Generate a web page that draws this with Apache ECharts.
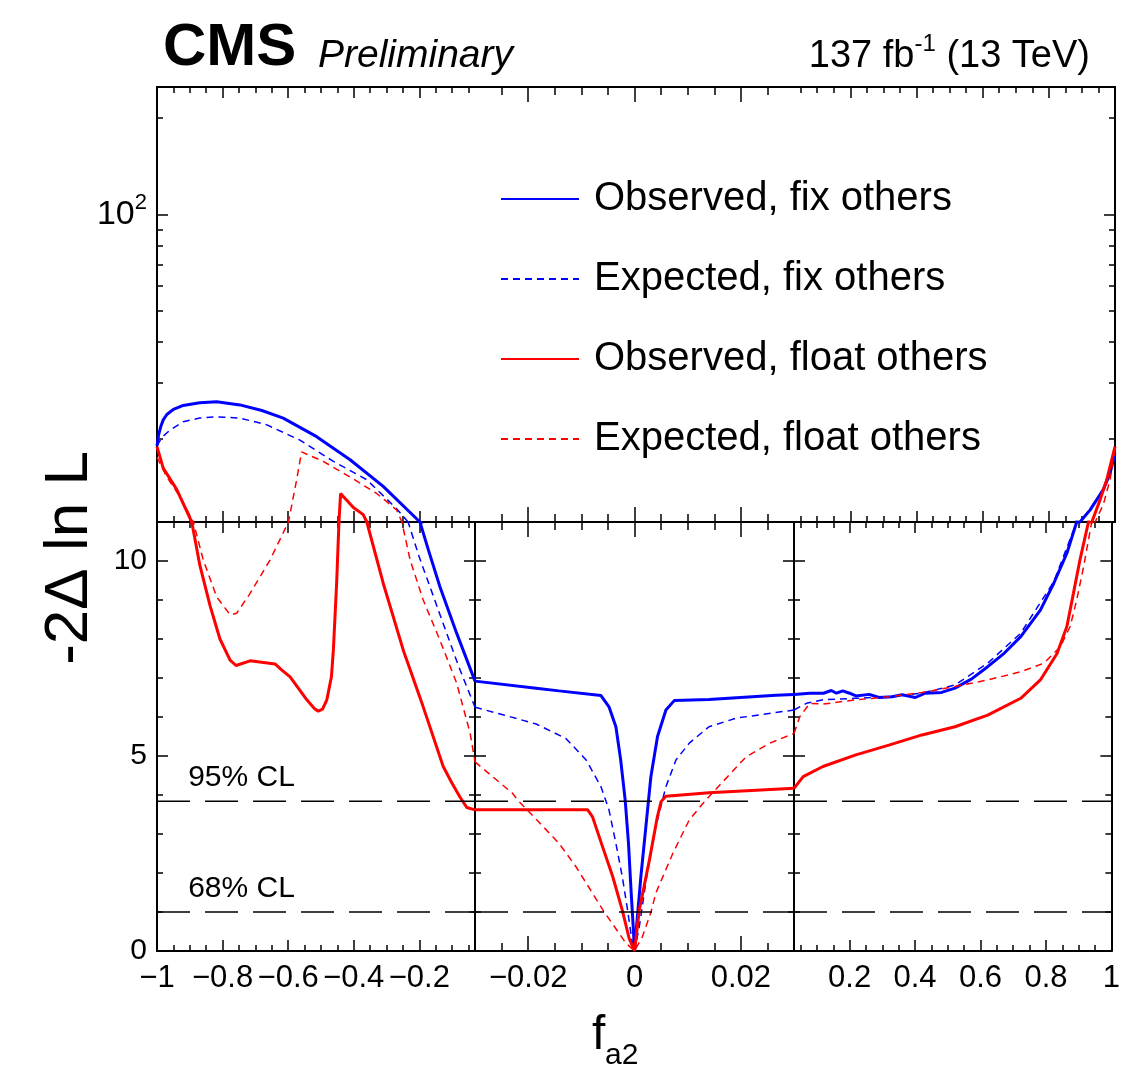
<!DOCTYPE html>
<html>
<head>
<meta charset="utf-8">
<script src="https://cdn.jsdelivr.net/npm/echarts@6/dist/echarts.min.js"></script>
<style>
  html, body { margin: 0; padding: 0; background: #fff; }
  #chart { width: 1123px; height: 1066px; }
</style>
</head>
<body>
<div id="chart"></div>
<script>
// -2 Delta lnL scan versus f_a2

// Observed, fix others (blue solid)
const obsFixX = [-1, -0.995, -0.988, -0.981, -0.97, -0.95, -0.92, -0.87, -0.818, -0.747, -0.68, -0.615, -0.513, -0.411, -0.31, -0.198, -0.172, -0.137, -0.086, -0.03,
  -0.0185, -0.0142, -0.0063, -0.0048, -0.0035, -0.0026, -0.00175, -0.00113, -0.00062, -0.00024, 0, 0.00038, 0.0012, 0.00214, 0.00308, 0.00433, 0.00591, 0.00747, 0.014, 0.0266, 0.03,
  0.078, 0.12, 0.144, 0.16, 0.179, 0.2, 0.219, 0.26, 0.29, 0.33, 0.36, 0.401, 0.431, 0.481, 0.522, 0.572, 0.622, 0.673, 0.723, 0.783, 0.824, 0.864, 0.894, 0.925, 0.965, 0.985, 1];
const obsFixY = [19.0, 20.6, 21.9, 22.9, 23.8, 24.7, 25.4, 25.9, 26.1, 25.5, 24.5, 23.2, 20.3, 17.2, 14.2, 11.0, 10.28, 9.34, 8.15, 6.92,
  6.74, 6.67, 6.55, 6.26, 5.75, 4.90, 3.87, 2.76, 1.48, 0.62, 0, 0.62, 1.91, 3.19, 4.47, 5.50, 6.18, 6.42, 6.45, 6.56, 6.58,
  6.61, 6.61, 6.68, 6.61, 6.67, 6.61, 6.54, 6.58, 6.50, 6.52, 6.57, 6.50, 6.61, 6.63, 6.74, 6.97, 7.29, 7.64, 8.06, 8.74, 9.43, 10.2, 11.0, 12.0, 13.9, 15.6, 18.0];

// Expected, fix others (blue dashed)
const expFixX = [-1, -0.985, -0.96, -0.92, -0.87, -0.818, -0.747, -0.665, -0.564, -0.462, -0.36, -0.269, -0.234, -0.2, -0.14, -0.08, -0.03,
  -0.0248, -0.0185, -0.0129, -0.0091, -0.0063, -0.0048, -0.0035, -0.0023, -0.0013, -0.0005, 0, 0.0009, 0.0023, 0.004, 0.0059, 0.0078, 0.0103, 0.014, 0.0191, 0.0253, 0.03,
  0.068, 0.1185, 0.219, 0.32, 0.421, 0.522, 0.622, 0.723, 0.824, 0.894, 0.925, 0.965, 0.985, 1];
const expFixY = [19.0, 20.2, 21.3, 22.6, 23.2, 23.4, 23.2, 22.1, 19.8, 17.0, 14.9, 12.1, 11.0, 10.1, 8.7, 7.3, 6.25,
  6.06, 5.82, 5.45, 4.90, 4.21, 3.62, 2.76, 1.91, 1.05, 0.28, 0, 0.62, 1.91, 3.19, 4.21, 4.90, 5.33, 5.75, 5.97, 6.09, 6.18,
  6.35, 6.44, 6.48, 6.52, 6.61, 6.82, 7.38, 8.15, 9.47, 11.0, 12.1, 13.9, 15.5, 18.0];

// Observed, float others (red solid)
const obsFloatX = [-1, -0.981, -0.94, -0.894, -0.869, -0.838, -0.808, -0.777, -0.759, -0.716, -0.64, -0.62, -0.594, -0.543, -0.52, -0.508, -0.495, -0.482, -0.468, -0.462, -0.452, -0.445, -0.44, -0.401, -0.371, -0.36, -0.31, -0.249, -0.188, -0.127, -0.1, -0.076, -0.055, -0.03,
  -0.0088, -0.0079, -0.006, -0.0041, -0.0023, -0.001, 0, 0.0009, 0.0028, 0.0043, 0.005, 0.0059, 0.014, 0.03,
  0.058, 0.1185, 0.219, 0.32, 0.421, 0.522, 0.622, 0.723, 0.783, 0.834, 0.864, 0.884, 0.904, 0.93, 0.955, 0.975, 0.99, 1];
const obsFloatY = [18.9, 16.2, 13.9, 11.0, 9.88, 8.85, 8.0, 7.46, 7.32, 7.44, 7.36, 7.21, 7.03, 6.44, 6.22, 6.15, 6.2, 6.44, 7.03, 7.72, 9.44, 11.0, 13.5, 12.2, 11.6, 11.0, 9.43, 7.72, 6.26, 4.73, 4.3, 3.95, 3.68, 3.62,
  3.62, 3.44, 2.67, 1.91, 1.05, 0.32, 0, 1.05, 2.33, 3.44, 3.83, 3.97, 4.06, 4.17,
  4.47, 4.73, 5.03, 5.28, 5.54, 5.75, 6.05, 6.48, 6.95, 7.63, 8.32, 9.17, 10.03, 11.0, 12.9, 14.9, 17.2, 18.9];

// Expected, float others (red dashed)
const expFloatX = [-1, -0.97, -0.93, -0.889, -0.859, -0.818, -0.777, -0.757, -0.716, -0.655, -0.599, -0.574, -0.559, -0.493, -0.411, -0.33, -0.269, -0.253, -0.228, -0.188, -0.137, -0.086, -0.045, -0.03,
  -0.023, -0.0217, -0.0185, -0.0142, -0.011, -0.0079, -0.0057, -0.0016, 0, 0.0015, 0.0031, 0.004, 0.0072, 0.0103, 0.0134, 0.021, 0.0253, 0.03,
  0.048, 0.078, 0.1185, 0.219, 0.32, 0.421, 0.522, 0.622, 0.723, 0.794, 0.844, 0.874, 0.894, 0.915, 0.94, 0.965, 0.985, 1];
const expFloatY = [17.5, 15.2, 13.2, 11.0, 10.03, 9.08, 8.62, 8.66, 9.17, 10.03, 11.0, 14.9, 18.2, 17.0, 15.2, 13.5, 12.0, 11.0, 10.03, 9.0, 7.97, 6.87, 5.59, 4.85,
  4.05, 3.83, 3.38, 2.76, 2.16, 1.48, 1.0, 0.2, 0, 0.37, 1.0, 1.48, 2.5, 3.36, 3.87, 4.98, 5.32, 5.58,
  6.01, 6.35, 6.33, 6.44, 6.52, 6.63, 6.78, 6.95, 7.16, 7.38, 7.80, 8.32, 9.0, 9.85, 11.0, 12.5, 14.9, 18.5];

// confidence levels
const clLevels = [3.84, 1];
const clLabels = ['95% CL', '68% CL'];

// x shown in three pieces, y linear below 11 and log above
const xPanels = [[-1, -0.03], [-0.03, 0.03], [0.03, 1]];
const xMajor = [[-1, -0.8, -0.6, -0.4, -0.2], [-0.02, 0, 0.02], [0.2, 0.4, 0.6, 0.8, 1]];
const xMinor = [
  [-0.95, -0.9, -0.85, -0.75, -0.7, -0.65, -0.55, -0.5, -0.45, -0.35, -0.3, -0.25, -0.15, -0.1, -0.05],
  [-0.025, -0.015, -0.01, -0.005, 0.005, 0.01, 0.015, 0.025],
  [0.05, 0.1, 0.15, 0.25, 0.3, 0.35, 0.45, 0.5, 0.55, 0.65, 0.7, 0.75, 0.85, 0.9, 0.95]
];
const yLinMajor = [0, 5, 10];
const yLinMinor = [1, 2, 3, 4, 6, 7, 8, 9];
const yLogMajor = [100];
const yLogMinor = [20, 30, 40, 50, 60, 70, 80, 90, 200];

const chart = echarts.init(document.getElementById('chart'));
const FONT = '"Liberation Sans", Arial, Helvetica, sans-serif';
const colEdges = [157, 475, 794, 1115];
const rowEdges = [87, 522, 951];
const frame = { color: '#000', width: 2 };

function fmtX(v) {
  return String(+v.toFixed(3)).replace('-', '\u2212');
}

const grids = [], xAxes = [], yAxes = [];
for (let r = 0; r < 2; r++) {
  for (let c = 0; c < 3; c++) {
    const g = grids.length;
    grids.push({
      left: colEdges[c], top: rowEdges[r],
      width: colEdges[c + 1] - colEdges[c], height: rowEdges[r + 1] - rowEdges[r]
    });
    const mid = c === 1;
    ['bottom', 'top'].forEach(pos => {
      [true, false].forEach(major => {
        xAxes.push({
          gridIndex: g, type: 'value', position: pos,
          min: xPanels[c][0], max: xPanels[c][1],
          axisLine: { show: major, onZero: false, lineStyle: frame },
          axisTick: {
            show: true, inside: true,
            length: major ? (mid ? 15 : 11) : (mid ? 8 : 6),
            customValues: major ? xMajor[c] : xMinor[c],
            lineStyle: { color: '#000', width: 1.5 }
          },
          axisLabel: {
            show: major && r === 1 && pos === 'bottom',
            customValues: xMajor[c], formatter: fmtX, margin: 12,
            fontSize: 31, color: '#000', fontFamily: FONT
          },
          splitLine: { show: false }
        });
      });
    });
    ['left', 'right'].forEach(pos => {
      const outer = r === 1 || (c === 0 && pos === 'left') || (c === 2 && pos === 'right');
      [true, false].forEach(major => {
        const isLog = r === 0;
        yAxes.push({
          gridIndex: g, type: isLog ? 'log' : 'value', logBase: 10, position: pos,
          min: isLog ? 11 : 0, max: isLog ? 250 : 11,
          axisLine: { show: outer && major, onZero: false, lineStyle: frame },
          axisTick: {
            show: outer, inside: true, length: major ? 11 : 6,
            customValues: isLog ? (major ? yLogMajor : yLogMinor) : (major ? yLinMajor : yLinMinor),
            lineStyle: { color: '#000', width: 1.5 }
          },
          axisLabel: {
            show: major && c === 0 && pos === 'left',
            customValues: isLog ? yLogMajor : yLinMajor,
            margin: 10, fontSize: 30, color: '#000', fontFamily: FONT,
            formatter: isLog ? (() => '{b|10}{s|2}') : (v => String(v)),
            rich: {
              b: { fontSize: 34, lineHeight: 46, fontFamily: FONT, color: '#000', verticalAlign: 'middle' },
              s: { fontSize: 22, lineHeight: 22, fontFamily: FONT, color: '#000', verticalAlign: 'top' }
            }
          },
          splitLine: { show: false }
        });
      });
    });
  }
}

const curves = [
  { name: 'Observed, fix others', x: obsFixX, y: obsFixY, color: '#0000ff', dashed: false },
  { name: 'Expected, fix others', x: expFixX, y: expFixY, color: '#0000ff', dashed: true },
  { name: 'Observed, float others', x: obsFloatX, y: obsFloatY, color: '#ff0000', dashed: false },
  { name: 'Expected, float others', x: expFloatX, y: expFloatY, color: '#ff0000', dashed: true }
];

const series = [];
curves.forEach(cv => {
  for (let r = 0; r < 2; r++) {
    for (let c = 0; c < 3; c++) {
      if (r === 0 && c === 1) continue; // nothing reaches above 11 in the middle
      const g = r * 3 + c;
      const lo = xPanels[c][0], hi = xPanels[c][1];
      const pts = [];
      cv.x.forEach((xv, i) => {
        if (xv >= lo - 1e-9 && xv <= hi + 1e-9) pts.push([xv, cv.y[i]]);
      });
      series.push({
        type: 'line', name: cv.name, xAxisIndex: g * 4, yAxisIndex: g * 4,
        data: pts, symbol: 'none', clip: true, silent: true,
        itemStyle: { color: cv.color },
        lineStyle: { color: cv.color, width: cv.dashed ? 1.5 : 3, type: cv.dashed ? [7, 5] : 'solid' }
      });
    }
  }
});

// CL reference lines in the linear part
for (let c = 0; c < 3; c++) {
  const g = 3 + c;
  clLevels.forEach(lv => {
    series.push({
      type: 'line', name: 'cl', xAxisIndex: g * 4, yAxisIndex: g * 4,
      data: [[xPanels[c][0], lv], [xPanels[c][1], lv]],
      symbol: 'none', silent: true,
      lineStyle: { color: '#000', width: 1.5, type: [33, 15] }
    });
  });
}

const texts = [
  { type: 'text', x: 163, y: 48, style: { text: 'CMS', font: 'bold 60px ' + FONT, fill: '#000', textVerticalAlign: 'middle' } },
  { type: 'text', x: 318, y: 56, style: { text: 'Preliminary', font: 'italic 39px ' + FONT, fill: '#000', textVerticalAlign: 'middle' } },
  { type: 'text', x: 1090, y: 57, style: {
      text: '{a|137 fb}{s|-1}{a| (13 TeV)}', textAlign: 'right', textVerticalAlign: 'middle',
      rich: {
        a: { fontSize: 38, lineHeight: 50, fontFamily: FONT, fill: '#000', verticalAlign: 'middle' },
        s: { fontSize: 24, lineHeight: 24, fontFamily: FONT, fill: '#000', verticalAlign: 'top' }
      } } },
  { type: 'text', x: 70, y: 558, rotation: Math.PI / 2, style: { text: '-2\u0394 ln L', font: '62px ' + FONT, fill: '#000', textAlign: 'center', textVerticalAlign: 'middle' } },
  { type: 'text', x: 592, y: 1036, style: { text: 'f', font: '48px ' + FONT, fill: '#000', textVerticalAlign: 'middle' } },
  { type: 'text', x: 605, y: 1056, style: { text: 'a2', font: '30px ' + FONT, fill: '#000', textVerticalAlign: 'middle' } }
];

const option = {
  animation: false,
  backgroundColor: '#fff',
  grid: grids,
  xAxis: xAxes,
  yAxis: yAxes,
  legend: {
    data: curves.map(c => c.name),
    orient: 'vertical', left: 500, top: 179, padding: 0,
    itemWidth: 78, itemHeight: 14, itemGap: 40,
    selectedMode: false,
    itemStyle: { opacity: 0 },
    textStyle: { fontSize: 40, lineHeight: 40, fontFamily: FONT, color: '#000', padding: [0, 0, 0, 10] }
  },
  graphic: texts,
  series: series
};

chart.setOption(option);

// CL captions sit just above their lines, placed through the bottom-left axes
clLabels.forEach((t, i) => {
  const p = chart.convertToPixel({ xAxisIndex: 12, yAxisIndex: 12 }, [-0.905, clLevels[i] + 0.6]);
  texts.push({ type: 'text', x: p[0], y: p[1], style: { text: t, font: '30px ' + FONT, fill: '#000', textVerticalAlign: 'middle' } });
});
chart.setOption({ graphic: texts });
</script>
</body>
</html>
